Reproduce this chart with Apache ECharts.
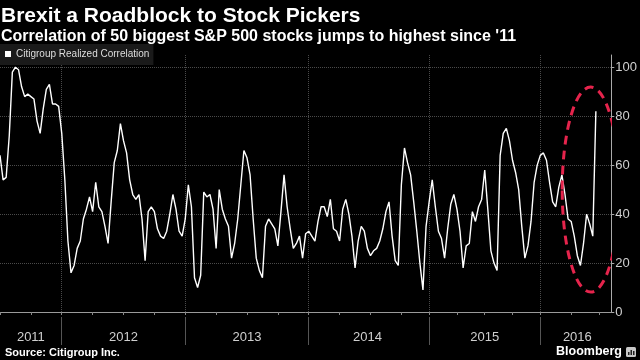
<!DOCTYPE html>
<html>
<head>
<meta charset="utf-8">
<script src="https://cdn.jsdelivr.net/npm/echarts@6/dist/echarts.min.js"></script>
<style>
html,body{margin:0;padding:0;background:#000;}
#c{width:640px;height:360px;}
</style>
</head>
<body>
<div id="c"></div>
<script>
const titleText = 'Brexit a Roadblock to Stock Pickers';
const subtitleText = "Correlation of 50 biggest S&P 500 stocks jumps to highest since '11";
const seriesName = 'Citigroup Realized Correlation';
const sourceText = 'Source: Citigroup Inc.';

const dates = [
 '2011-07-01','2011-07-10','2011-07-19','2011-07-28','2011-08-06','2011-08-15','2011-08-24','2011-09-02','2011-09-11','2011-09-20',
 '2011-10-01','2011-10-10','2011-10-19','2011-10-28','2011-11-06','2011-11-15','2011-11-24','2011-12-03','2011-12-12','2011-12-21',
 '2012-01-01','2012-01-10','2012-01-19','2012-01-28','2012-02-06','2012-02-15','2012-02-24','2012-03-05','2012-03-14','2012-03-23',
 '2012-04-01','2012-04-10','2012-04-19','2012-04-28','2012-05-07','2012-05-16','2012-05-25','2012-06-03','2012-06-12','2012-06-21',
 '2012-07-01','2012-07-10','2012-07-19','2012-07-28','2012-08-06','2012-08-15','2012-08-24','2012-09-02','2012-09-11','2012-09-20',
 '2012-10-01','2012-10-10','2012-10-19','2012-10-28','2012-11-06','2012-11-15','2012-11-24','2012-12-03','2012-12-12','2012-12-21',
 '2013-01-01','2013-01-10','2013-01-19','2013-01-28','2013-02-06','2013-02-15','2013-02-24','2013-03-05','2013-03-14','2013-03-23',
 '2013-04-01','2013-04-10','2013-04-19','2013-04-28','2013-05-07','2013-05-16','2013-05-25','2013-06-03','2013-06-12','2013-06-21',
 '2013-07-01','2013-07-10','2013-07-19','2013-07-28','2013-08-06','2013-08-15','2013-08-24','2013-09-02','2013-09-11','2013-09-20',
 '2013-10-01','2013-10-10','2013-10-19','2013-10-28','2013-11-06','2013-11-15','2013-11-24','2013-12-03','2013-12-12','2013-12-21',
 '2014-01-01','2014-01-10','2014-01-19','2014-01-28','2014-02-06','2014-02-15','2014-02-24','2014-03-05','2014-03-14','2014-03-23',
 '2014-04-01','2014-04-10','2014-04-19','2014-04-28','2014-05-07','2014-05-16','2014-05-25','2014-06-03','2014-06-12','2014-06-21',
 '2014-07-01','2014-07-10','2014-07-19','2014-07-28','2014-08-06','2014-08-15','2014-08-24','2014-09-02','2014-09-11','2014-09-20',
 '2014-10-01','2014-10-11','2014-10-21','2014-10-31','2014-11-10','2014-11-20','2014-11-30','2014-12-10','2014-12-20',
 '2015-01-01','2015-01-11','2015-01-21','2015-01-31','2015-02-10','2015-02-20','2015-03-02','2015-03-12','2015-03-22',
 '2015-04-01','2015-04-11','2015-04-21','2015-05-01','2015-05-11','2015-05-21','2015-05-31','2015-06-10','2015-06-20',
 '2015-07-01','2015-07-11','2015-07-21','2015-07-31','2015-08-10','2015-08-20','2015-08-30','2015-09-09','2015-09-19',
 '2015-10-01','2015-10-11','2015-10-21','2015-10-31','2015-11-10','2015-11-20','2015-11-30','2015-12-10','2015-12-20',
 '2016-01-01','2016-01-10','2016-01-19','2016-01-28','2016-02-06','2016-02-15','2016-02-24','2016-03-05','2016-03-14','2016-03-23',
 '2016-04-01','2016-04-11','2016-04-21','2016-05-01','2016-05-11','2016-05-21','2016-05-31','2016-06-10','2016-06-27',
 '2016-07-01','2016-07-10','2016-07-19','2016-07-28','2016-08-06'
];

const correlation = [
 64,54,55,72,98,100,99,92,88,89,
 88,87,78,73,83,91,93,85,85,84,
 73,54,29,16,19,26,29,38,42,47,
 41,53,43,41,35,28,45,61,66,77,
 70,65,54,48,46,48,38,21,41,43,
 41,34,31,30,33,40,48,42,33,31,
 38,52,43,14,10,15,49,47,48,42,
 26,50,42,38,35,22,28,38,52,66,
 63,56,38,22,17,14,35,38,36,34,
 27,41,56,43,34,26,28,31,22,32,
 33,31,29,37,43,43,39,46,34,33,
 29,42,46,40,31,18,29,35,33,26,
 23,25,26,29,34,41,45,31,21,19,
 52,67,61,56,45,33,20,9,35,45,
 54,43,33,30,22,34,44,48,42,33,
 18,27,28,41,37,43,46,58,42,25,
 20,17,64,73,75,70,62,57,50,35,
 22,27,37,53,60,64,65,62,53,45,
 43,51,56,48,38,37,31,23,19,28,
 40,36,31,82
];

const yTicks = [0, 20, 40, 60, 80, 100];
const highlightCenter = [191, 50];

const FONT = "'Liberation Sans', Arial, sans-serif";

function isYearStart(v) { return v.slice(5) === '01-01'; }
function isQuarterStart(v) { const m = v.slice(5); return m === '01-01' || m === '04-01' || m === '07-01' || m === '10-01'; }

// label at middle of each year's visible span
const yearGroups = {};
dates.forEach((d, i) => { const y = d.slice(0, 4); (yearGroups[y] = yearGroups[y] || []).push(i); });
const labelIdx = new Set(Object.values(yearGroups).map(g => g[0] + Math.floor(g.length / 2)));

const chart = echarts.init(document.getElementById('c'), null, {renderer: 'canvas'});
chart.setOption({
  backgroundColor: '#000',
  animation: false,
  title: {
    text: titleText,
    subtext: subtitleText,
    left: 1, top: 6, padding: 0, itemGap: 2,
    textStyle: {color: '#fff', fontSize: 21, fontWeight: 'bold', fontFamily: FONT},
    subtextStyle: {color: '#fff', fontSize: 16, fontWeight: 'bold', fontFamily: FONT}
  },
  legend: {
    data: [seriesName],
    left: 0, top: 44,
    padding: [5, 4, 6, 5],
    backgroundColor: '#1a1a1a',
    icon: 'rect', itemWidth: 6, itemHeight: 6,
    textStyle: {color: '#ddd', fontSize: 10, fontFamily: FONT}
  },
  grid: {left: 0, right: 25, top: 55, bottom: 48},
  xAxis: [{
    type: 'category', data: dates, boundaryGap: false, position: 'bottom', offset: 5,
    axisLine: {show: true, lineStyle: {color: '#9a9a9a', width: 1}},
    axisTick: {show: true, length: 3, interval: (i, v) => isQuarterStart(v), lineStyle: {color: '#888'}},
    axisLabel: {show: true, interval: (i) => labelIdx.has(i), formatter: v => v.slice(0, 4), color: '#cfcfcf', fontSize: 13, margin: 14, fontFamily: FONT},
    splitLine: {show: true, interval: (i, v) => isYearStart(v), lineStyle: {color: '#4a4a4a', type: 'dotted'}}
  }, {
    type: 'category', data: dates, boundaryGap: false, position: 'bottom', offset: 5,
    axisLine: {show: false},
    axisTick: {show: true, length: 28, interval: (i, v) => isYearStart(v), lineStyle: {color: '#555'}},
    axisLabel: {show: false},
    splitLine: {show: false}
  }],
  yAxis: {
    type: 'value', position: 'right', min: 0, max: 105, interval: 20,
    axisLine: {show: true, lineStyle: {color: '#aaa'}},
    axisTick: {show: true, length: 3, lineStyle: {color: '#aaa'}},
    axisLabel: {color: '#d0d0d0', fontSize: 13, margin: 4, showMaxLabel: false, fontFamily: FONT,
      formatter: v => yTicks.includes(v) ? String(v) : ''},
    splitLine: {show: true, showMaxLine: false, lineStyle: {color: '#4a4a4a', type: 'dotted'}}
  },
  series: [{
    name: seriesName, type: 'line', data: correlation, xAxisIndex: 0,
    showSymbol: false, symbol: 'none',
    itemStyle: {color: '#fff'},
    lineStyle: {color: '#fff', width: 1.4}
  }, {
    type: 'custom', xAxisIndex: 0, clip: true, silent: true,
    data: [highlightCenter],
    renderItem: function (params, api) {
      const c = api.coord([api.value(0), api.value(1)]);
      return {
        type: 'ellipse',
        shape: {cx: c[0] + 1, cy: c[1], rx: 28.5, ry: 102.5},
        style: {fill: 'none', stroke: '#e5244c', lineWidth: 3, lineDash: [9, 6]}
      };
    },
    z: 5
  }],
  graphic: [
    {type: 'text', left: 5, top: 347, style: {text: sourceText, fill: '#fff', font: "bold 11px " + FONT}},
    {type: 'text', right: 18, top: 345, style: {text: 'Bloomberg', fill: '#fff', font: "bold 12.5px " + FONT}},
    {type: 'rect', shape: {x: 626, y: 347, width: 10, height: 10, r: 1.5}, style: {fill: '#c8c8c8'}},
    {type: 'rect', shape: {x: 628, y: 352, width: 1.5, height: 3}, style: {fill: '#222'}},
    {type: 'rect', shape: {x: 630.5, y: 350, width: 1.5, height: 5}, style: {fill: '#222'}},
    {type: 'rect', shape: {x: 633, y: 351, width: 1.5, height: 4}, style: {fill: '#222'}}
  ]
});
</script>
</body>
</html>
